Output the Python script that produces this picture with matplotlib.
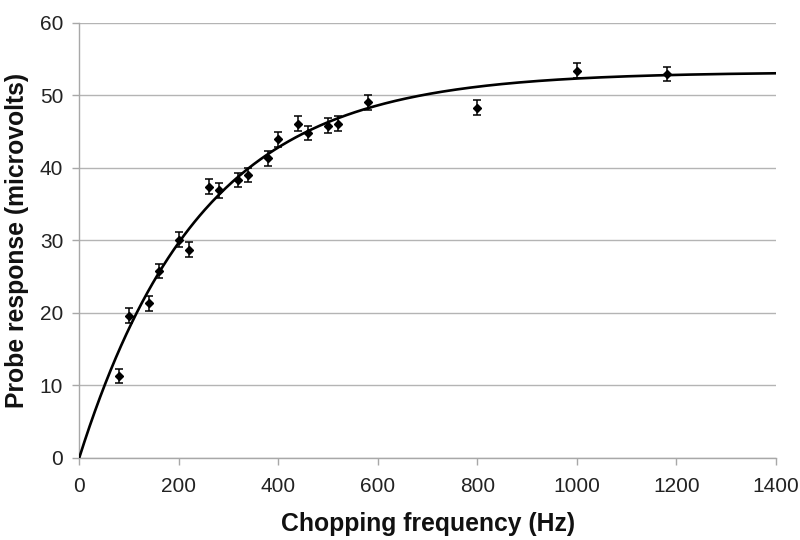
import numpy as np
import matplotlib.pyplot as plt

freq_hz = [80, 100, 140, 160, 200, 220, 260, 280, 320, 340, 380, 400,
           440, 460, 500, 520, 580, 800, 1000, 1180]
response_uv = [11.3, 19.6, 21.3, 25.8, 30.1, 28.7, 37.4, 36.9, 38.3, 39.0,
               41.3, 43.9, 46.1, 44.8, 45.8, 46.1, 49.0, 48.3, 53.4, 52.9]
response_err = [1.0] * len(freq_hz)

# fitted saturation curve y = A * (1 - exp(-f / tau))
fit_amplitude = 53.2
fit_tau = 245.0

x_ticks = [0, 200, 400, 600, 800, 1000, 1200, 1400]
y_ticks = [0, 10, 20, 30, 40, 50, 60]

plt.rcParams['font.family'] = ['Liberation Sans', 'DejaVu Sans']

fig = plt.figure(figsize=(8, 5.4), dpi=100)
ax = fig.add_axes([0.099, 0.152, 0.871, 0.806])

f_fit = np.linspace(0, 1400, 400)
ax.plot(f_fit, fit_amplitude * (1 - np.exp(-f_fit / fit_tau)),
        color='black', linewidth=1.9, zorder=3)

ax.errorbar(freq_hz, response_uv, yerr=response_err, fmt='D', color='black',
            markersize=4.3, elinewidth=1.1, capsize=2.6, capthick=1.1, zorder=4)

ax.set_xlim(0, 1400)
ax.set_ylim(0, 60)
ax.set_xticks(x_ticks)
ax.set_yticks(y_ticks)
ax.yaxis.grid(True, color='#b4b4b4', linewidth=1.0)
ax.set_axisbelow(True)

for side in ['top', 'right']:
    ax.spines[side].set_visible(False)
for side in ['left', 'bottom']:
    ax.spines[side].set_color('#a8a8a8')
    ax.spines[side].set_linewidth(1.0)

ax.tick_params(axis='both', colors='#a8a8a8', labelcolor='#222222',
               labelsize=15, length=5, width=1.0, direction='out')
ax.tick_params(axis='x', pad=9)
ax.tick_params(axis='y', pad=6.5)

ax.set_xlabel('Chopping frequency (Hz)', fontsize=17.8, fontweight='bold',
              color='#111111', labelpad=11)
ax.set_ylabel('Probe response (microvolts)', fontsize=17.8, fontweight='bold',
              color='#111111', labelpad=8)

fig.savefig('out.png', dpi=100)
